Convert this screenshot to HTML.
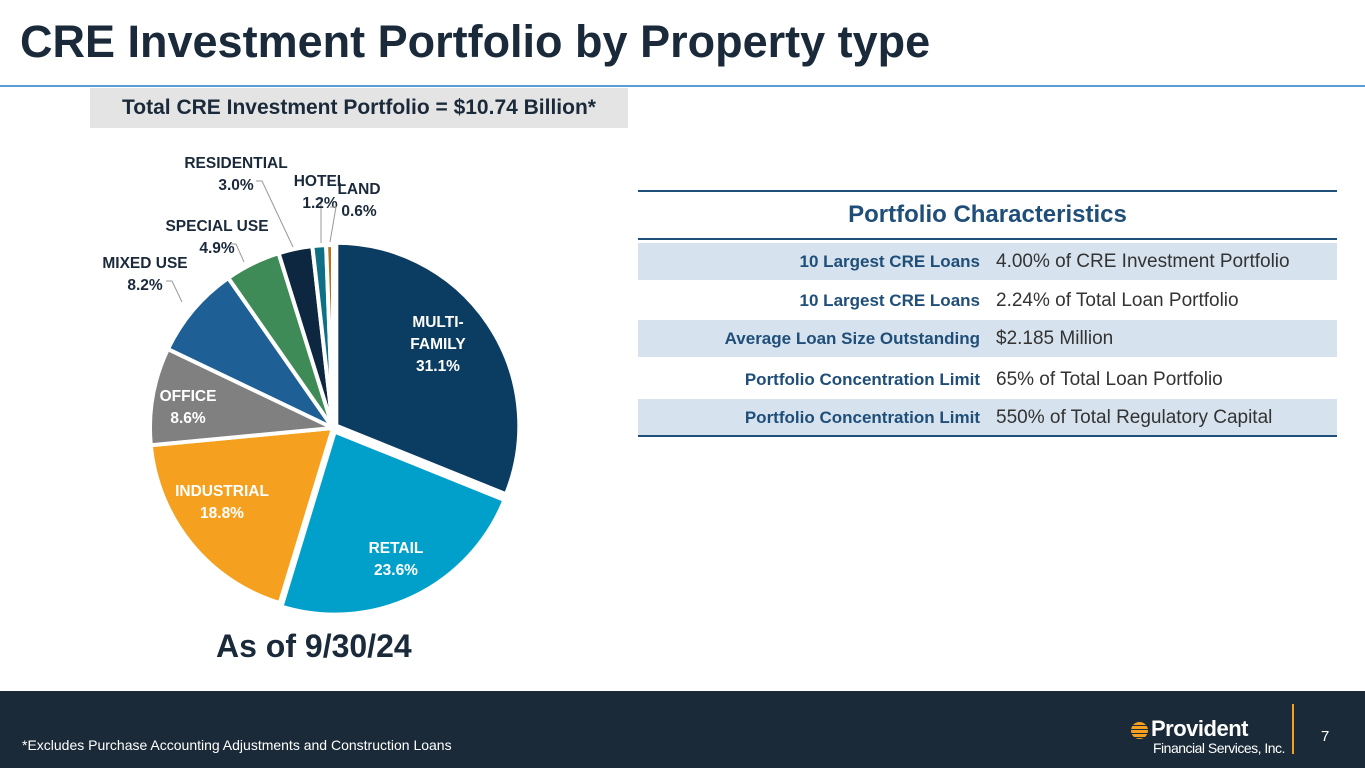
<!DOCTYPE html>
<html><head><meta charset="utf-8"><style>
body{margin:0;width:1365px;height:768px;overflow:hidden;background:#fff;font-family:"Liberation Sans",sans-serif;position:relative}
.abs{position:absolute}
.row{position:absolute;left:638px;width:699px;height:37px;color:#1b2a3a}
.row .l{position:absolute;right:357px;top:9px;font-weight:bold;color:#1f4e79;font-size:17px}
.row .v{position:absolute;left:358px;top:8px;color:#333;font-size:19px}
</style></head><body>
<div class="abs" style="left:20px;top:16px;font-size:45px;font-weight:bold;color:#1b2a3a">CRE Investment Portfolio by Property type</div>
<div class="abs" style="left:0;top:85px;width:1365px;height:2px;background:#5b9bd5"></div>
<div class="abs" style="left:90px;top:88px;width:538px;height:40px;background:#e4e4e4;font-size:21px;font-weight:bold;color:#1b2a3a;line-height:40px;text-align:center">Total CRE Investment Portfolio = $10.74 Billion*</div>
<svg class="abs" style="left:0;top:0" width="640" height="690" id="pie"></svg>
<div class="abs" style="left:216px;top:628px;font-size:32px;font-weight:bold;color:#1b2a3a">As of 9/30/24</div>
<div class="abs" style="left:638px;top:190px;width:699px;height:2px;background:#1f4e79"></div>
<div class="abs" style="left:638px;top:201px;width:699px;text-align:center;font-size:24px;font-weight:bold;color:#1f4e79">Portfolio Characteristics</div>
<div class="abs" style="left:638px;top:238px;width:699px;height:2px;background:#1f4e79"></div>
<div class="row" style="top:243px;background:#d6e3ee"><span class="l">10 Largest CRE Loans</span><span class="v">4.00% of CRE Investment Portfolio</span></div>
<div class="row" style="top:282px"><span class="l">10 Largest CRE Loans</span><span class="v">2.24% of Total Loan Portfolio</span></div>
<div class="row" style="top:320px;background:#d6e3ee"><span class="l">Average Loan Size Outstanding</span><span class="v">$2.185 Million</span></div>
<div class="row" style="top:361px"><span class="l">Portfolio Concentration Limit</span><span class="v">65% of Total Loan Portfolio</span></div>
<div class="row" style="top:399px;background:#d6e3ee"><span class="l">Portfolio Concentration Limit</span><span class="v">550% of Total Regulatory Capital</span></div>
<div class="abs" style="left:638px;top:435px;width:699px;height:2px;background:#1f4e79"></div>
<div class="abs" style="left:0;top:691px;width:1365px;height:77px;background:#1b2a38"></div>
<div class="abs" style="left:22px;top:737px;font-size:14px;color:#fff">*Excludes Purchase Accounting Adjustments and Construction Loans</div>
<div class="abs" style="left:1131px;top:722px;width:17px;height:17px;border-radius:50%;background:repeating-linear-gradient(#f5a11f 0 3px,#1b2a38 3px 4px)"></div>
<div class="abs" style="left:1151px;top:716px;font-size:22px;font-weight:bold;color:#fff;letter-spacing:-0.5px">Provident</div>
<div class="abs" style="left:1153px;top:740px;font-size:14px;color:#fff;letter-spacing:-0.5px">Financial Services, Inc.</div>
<div class="abs" style="left:1292px;top:704px;width:2px;height:50px;background:#f5a11f"></div>
<div class="abs" style="left:1321px;top:728px;font-size:15px;color:#fff">7</div>
<script>
const categories=["MULTI-FAMILY","RETAIL","INDUSTRIAL","OFFICE","MIXED USE","SPECIAL USE","RESIDENTIAL","HOTEL","LAND"];
const values=[31.1,23.6,18.8,8.6,8.2,4.9,3.0,1.2,0.6];
const colors=["#0b3c61","#00a0cb","#f5a11f","#808080","#1e5f96","#3f8b57","#0d2740","#0f6f85","#b5731b"];
const svg=document.getElementById('pie');const NS="http://www.w3.org/2000/svg";
const cx=333,cy=428,r=183;const total=values.reduce((a,b)=>a+b,0);
function pt(a,rr,ox,oy){return [ox+rr*Math.sin(a),oy-rr*Math.cos(a)];}
let a0=0;
const inside={0:{x:438,y:327,lines:["MULTI-","FAMILY","31.1%"],c:"#fff"},1:{x:396,y:553,lines:["RETAIL","23.6%"],c:"#fff"},2:{x:222,y:496,lines:["INDUSTRIAL","18.8%"],c:"#fff"},3:{x:188,y:401,lines:["OFFICE","8.6%"],c:"#fff"}};
const outside={4:{x:145,y:268,lines:["MIXED USE","8.2%"],ex:182,ey:302,lx:172},5:{x:217,y:231,lines:["SPECIAL USE","4.9%"],ex:244,ey:262,lx:236},6:{x:236,y:168,lines:["RESIDENTIAL","3.0%"],ex:293,ey:247,lx:262},7:{x:320,y:186,lines:["HOTEL","1.2%"],ex:321,ey:243,lx:321},8:{x:359,y:194,lines:["LAND","0.6%"],ex:330,ey:242,lx:336}};
values.forEach((v,i)=>{
 const a1=a0+v/total*2*Math.PI;const mid=(a0+a1)/2;const ex=i<2?4:0;
 const ox=cx+ex*Math.sin(mid),oy=cy-ex*Math.cos(mid);
 const p0=pt(a0,r,ox,oy),p1=pt(a1,r,ox,oy);
 const p=document.createElementNS(NS,'path');
 p.setAttribute('d',`M${ox},${oy}L${p0[0]},${p0[1]}A${r},${r} 0 ${a1-a0>Math.PI?1:0} 1 ${p1[0]},${p1[1]}Z`);
 p.setAttribute('fill',colors[i]);p.setAttribute('stroke','#fff');p.setAttribute('stroke-width','4');
 
 
 svg.appendChild(p);a0=a1;
});
function label(o,name){
 const t=document.createElementNS(NS,'text');t.setAttribute('x',o.x);t.setAttribute('y',o.y);
 t.setAttribute('text-anchor','middle');t.setAttribute('font-size','15.5');t.setAttribute('font-weight','bold');
 t.setAttribute('fill',o.c||'#1b2a3a');t.setAttribute('font-family','Liberation Sans, sans-serif');
 
 
 o.lines.forEach((s,k)=>{const ts=document.createElementNS(NS,'tspan');ts.setAttribute('x',o.x);ts.setAttribute('dy',k?22:0);ts.textContent=s;t.appendChild(ts);});
 svg.appendChild(t);
}
Object.keys(inside).forEach(k=>label(inside[k],'label-'+k));
Object.keys(outside).forEach(k=>{const o=outside[k];
 const l=document.createElementNS(NS,'polyline');
 l.setAttribute('points',`${o.lx-6},${o.y+13} ${o.lx},${o.y+13} ${o.ex},${o.ey}`);
 l.setAttribute('fill','none');l.setAttribute('stroke','#999');l.setAttribute('stroke-width','1');
 
 
 svg.appendChild(l);label(o,'label-'+k);});
</script>
</body></html>
